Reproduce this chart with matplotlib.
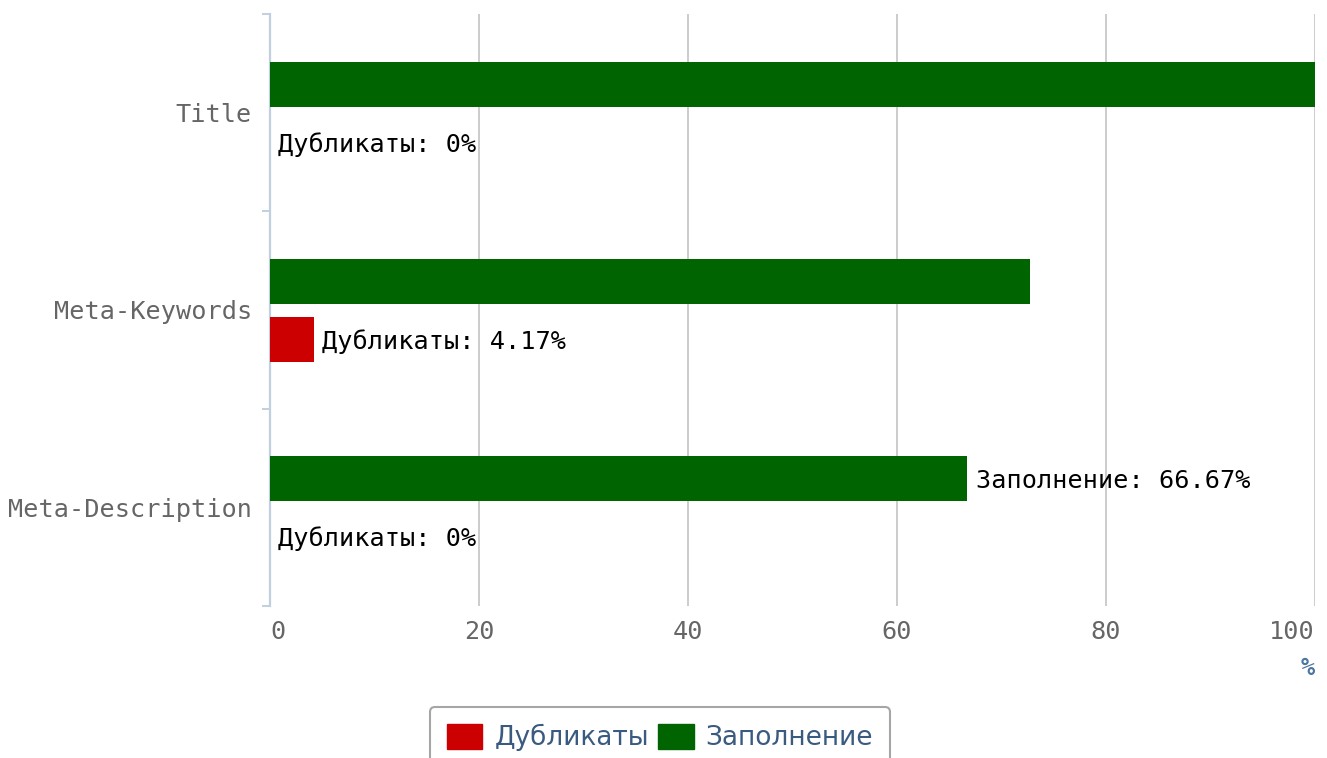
import matplotlib.pyplot as plt
from matplotlib.patches import Patch
from matplotlib.transforms import ScaledTranslation

# Data
categories = ['Title', 'Meta-Keywords', 'Meta-Description']
duplicates = [0, 4.17, 0]        # Дубликаты, %
filled = [100, 72.7, 66.67]      # Заполнение, %
x_ticks = [0, 20, 40, 60, 80, 100]

red = '#cc0000'
green = '#006400'
mono = 'DejaVu Sans Mono'
fs = 18.2

fig = plt.figure(figsize=(13.27, 7.58), dpi=100)
ax = fig.add_axes([270 / 1327, 1 - 606 / 758, 1045 / 1327, 592 / 758])

ypos = list(range(len(categories)))
bar_h = 0.228

ax.barh([y - 0.145 for y in ypos], filled, height=bar_h, color=green, zorder=3)
ax.barh([y + 0.15 for y in ypos], duplicates, height=bar_h, color=red, zorder=3)

# data labels that are visible on the chart
lbl = dict(fontsize=fs, family=mono, color='black', va='center',
           textcoords='offset points', zorder=4)
for i, v in enumerate(duplicates):
    ax.annotate(f'Дубликаты: {v:g}%', (v, i + 0.15), xytext=(6, -1.5), **lbl)
ax.annotate(f'Заполнение: {filled[2]:g}%', (filled[2], 2 - 0.145), xytext=(7, -1.5), **lbl)

ax.set_xlim(0, 100)
ax.set_ylim(2.5, -0.5)
ax.set_xticks(x_ticks)
ax.set_xticklabels([str(t) for t in x_ticks], family=mono, fontsize=fs, color='#666666')
xl = ax.get_xticklabels()
xl[0].set_horizontalalignment('left')
xl[-1].set_horizontalalignment('right')
ax.set_yticks(ypos)
ax.set_yticklabels(categories, family=mono, fontsize=fs, color='#666666',
                   va='center_baseline')
shift = ScaledTranslation(0, -2 / 100, fig.dpi_scale_trans)
for t in ax.get_yticklabels():
    t.set_transform(t.get_transform() + shift)
ax.set_yticks([-0.5, 0.5, 1.5, 2.5], minor=True)

ax.tick_params(axis='x', length=0, pad=10)
ax.tick_params(axis='y', which='major', length=0, pad=13)
ax.tick_params(axis='y', which='minor', length=6, width=1.4, color='#c0d0e0')

ax.grid(axis='x', color='#cccccc', linewidth=1.4, zorder=0)
ax.set_axisbelow(True)
for s in ['top', 'right', 'bottom']:
    ax.spines[s].set_visible(False)
ax.spines['left'].set_color('#c0d0e0')
ax.spines['left'].set_linewidth(1.6)

ax.set_xlabel('%', loc='right', fontweight='bold', color='#4d759e',
              fontsize=17, labelpad=9, family=mono)

handles = [Patch(facecolor=red, edgecolor=red, label='Дубликаты'),
           Patch(facecolor=green, edgecolor=green, label='Заполнение')]
leg = fig.legend(handles=handles, loc='upper center', ncol=2,
                 bbox_to_anchor=(660 / 1327, 1 - 707 / 758), borderaxespad=0,
                 prop={'family': 'DejaVu Sans', 'size': 19},
                 labelcolor='#3a5a80', frameon=True, fancybox=True,
                 edgecolor='#909090', handlelength=1.35, handleheight=1.05,
                 handletextpad=0.45, columnspacing=0.35, borderpad=0.65)
leg.get_frame().set_linewidth(1.5)

fig.savefig('out.png', dpi=100)
